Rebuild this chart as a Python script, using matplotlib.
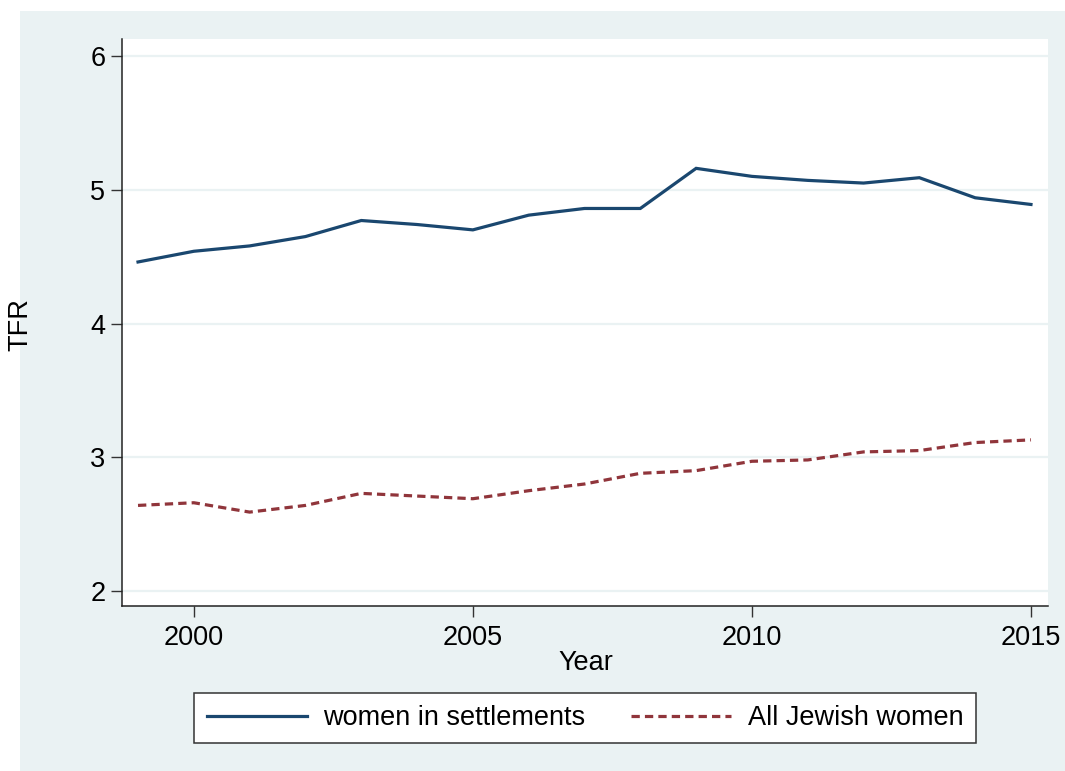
import matplotlib
matplotlib.use("Agg")
import matplotlib.pyplot as plt
from matplotlib.patches import Rectangle

years = list(range(1999, 2016))
settlements = [4.46, 4.54, 4.58, 4.65, 4.77, 4.74, 4.70, 4.81, 4.86, 4.86,
               5.16, 5.10, 5.07, 5.05, 5.09, 4.94, 4.89]
all_jewish = [2.64, 2.66, 2.59, 2.64, 2.73, 2.71, 2.69, 2.75, 2.80, 2.88,
              2.90, 2.97, 2.98, 3.04, 3.05, 3.11, 3.13]
x_ticks = [2000, 2005, 2010, 2015]
y_ticks = [2, 3, 4, 5, 6]
series_labels = ["women in settlements", "All Jewish women"]

plt.rcParams['font.family'] = ['Liberation Sans', 'DejaVu Sans']

W, H = 1065, 771
fig = plt.figure(figsize=(W / 100, H / 100), dpi=100)
fig.patch.set_facecolor('white')
bg = '#eaf2f3'
fig.patches.append(Rectangle((20 / W, 0), 1 - 20 / W, 1 - 11 / H,
                             transform=fig.transFigure, facecolor=bg,
                             edgecolor='none', zorder=0))

ax = fig.add_axes([122 / W, 1 - 606 / H, (1048 - 122) / W, (606 - 39) / H])
ax.set_facecolor('white')
ax.set_zorder(1)

navy = '#1a476f'
maroon = '#90353b'
l1, = ax.plot(years, settlements, color=navy, lw=2.3, solid_joinstyle='miter',
              label=series_labels[0], zorder=3)
l2, = ax.plot(years, all_jewish, color=maroon, lw=2.3, dashes=(2.6, 1.6),
              label=series_labels[1], zorder=3)

ax.set_xlim(1998.713, 2015.305)
ax.set_ylim(1.888, 6.127)
ax.set_xticks(x_ticks)
ax.set_yticks(y_ticks)
ax.grid(axis='y', color=bg, lw=1.6, zorder=1)
ax.grid(axis='x', visible=False)
for s in ['top', 'right']:
    ax.spines[s].set_visible(False)
for s in ['left', 'bottom']:
    ax.spines[s].set_color('#222222')
    ax.spines[s].set_linewidth(1.1)
ax.tick_params(axis='both', length=8, width=1.0, color='#333333',
               labelsize=19.5, labelcolor='black')
ax.tick_params(axis='x', pad=6)
ax.tick_params(axis='y', pad=4)

fig.text(20 / W, 1 - 325 / H, 'TFR', rotation=90, ha='center', va='center',
         fontsize=19.5)
fig.text(586 / W, 1 - 663 / H, 'Year', ha='center', va='center', fontsize=19.5)

leg = fig.legend(handles=[l1, l2], labels=series_labels, ncol=2,
                 loc='center', bbox_to_anchor=((197 + 973) / 2 / W, 1 - 718 / H),
                 fontsize=19.5, frameon=True, fancybox=False, framealpha=1,
                 handlelength=3.7, handletextpad=0.6, columnspacing=1.7,
                 borderpad=0.45, borderaxespad=0)
leg.get_frame().set_edgecolor('#333333')
leg.get_frame().set_linewidth(1.1)
leg.get_frame().set_facecolor('white')

fig.savefig('out.png', dpi=100)
